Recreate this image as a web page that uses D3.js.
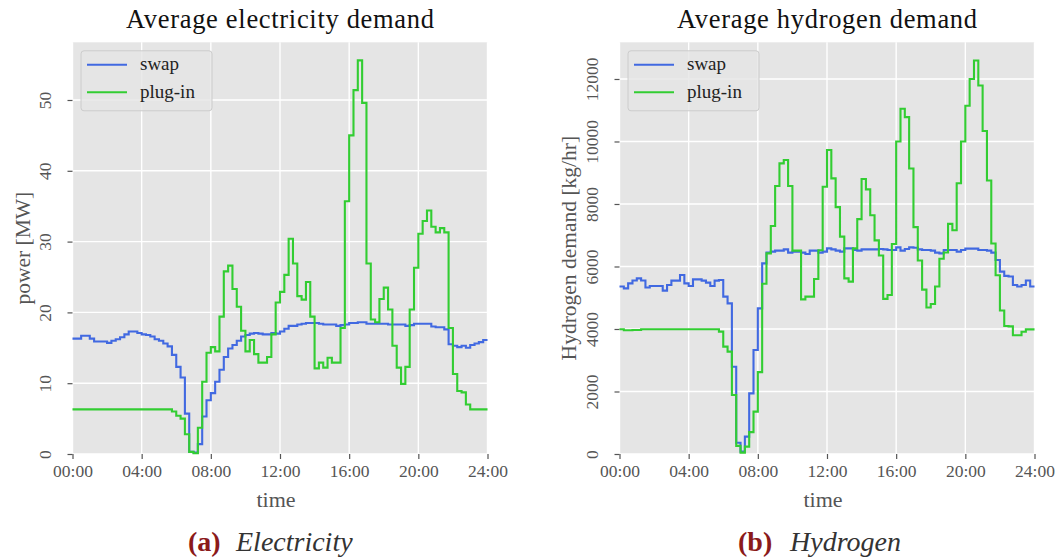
<!DOCTYPE html>
<html>
<head>
<meta charset="utf-8">
<script src="https://cdn.jsdelivr.net/npm/d3@7"></script>
<style>
  html, body { margin: 0; padding: 0; background: #ffffff; }
  svg { display: block; }
  text { font-family: "Liberation Serif", "DejaVu Serif", serif; }
</style>
</head>
<body>
<svg id="fig" width="1062" height="559"></svg>
<script>
// Quarter-hour averages over one day (96 slots, slot i starts at i/4 h)
const timeTicks = [0, 4, 8, 12, 16, 20, 24];
const timeTickLabels = ["00:00", "04:00", "08:00", "12:00", "16:00", "20:00", "24:00"];
const seriesNames = ["swap", "plug-in"];
const seriesColors = ["#4169e1", "#32cd32"];

// Electricity demand [MW]
const elecTicks = [0, 10, 20, 30, 40, 50];
const elecSwap = [
  16.3, 16.3, 16.7, 16.7, 16.3, 15.9, 15.9, 15.9, 15.7, 16.0, 16.2, 16.5,
  16.9, 17.3, 17.3, 17.1, 16.9, 16.8, 16.6, 16.2, 16.0, 15.6, 15.2, 14.0,
  12.3, 10.8, 5.7, 0.3, 0.2, 1.4, 5.3, 7.6, 8.6, 10.2, 11.9, 13.7,
  14.9, 15.4, 16.0, 16.6, 16.8, 17.0, 17.1, 17.0, 16.9, 16.9, 17.1, 17.0,
  17.3, 17.7, 18.1, 18.1, 18.3, 18.4, 18.5, 18.5, 18.5, 18.4, 18.3, 18.3,
  18.3, 18.1, 18.2, 18.3, 18.5, 18.5, 18.6, 18.6, 18.4, 18.4, 18.4, 18.4,
  18.4, 18.3, 18.3, 18.3, 18.3, 18.1, 18.2, 18.4, 18.4, 18.4, 18.4, 18.0,
  17.9, 17.9, 17.6, 15.5, 15.3, 15.1, 15.3, 15.0, 15.4, 15.6, 15.8, 16.1
];
const elecPlug = [
  6.3, 6.3, 6.3, 6.3, 6.3, 6.3, 6.3, 6.3, 6.3, 6.3, 6.3, 6.3,
  6.3, 6.3, 6.3, 6.3, 6.3, 6.3, 6.3, 6.3, 6.3, 6.3, 6.3, 6.0,
  5.4, 5.0, 2.8, 0.3, 0.1, 3.7, 10.2, 14.3, 15.1, 14.5, 19.4, 25.8,
  26.6, 23.3, 20.8, 17.4, 14.5, 16.1, 14.1, 12.9, 12.9, 13.7, 16.9, 21.4,
  22.9, 25.3, 30.4, 26.9, 22.3, 21.8, 24.3, 19.4, 12.1, 12.9, 12.2, 13.6,
  12.9, 12.9, 17.8, 35.7, 45.0, 51.4, 55.6, 49.6, 26.9, 19.0, 18.6, 21.9,
  23.5, 20.4, 15.3, 12.2, 9.9, 12.3, 20.4, 26.3, 31.1, 32.9, 34.4, 32.1,
  31.3, 31.9, 31.3, 17.8, 11.3, 8.9, 8.7, 7.0, 6.3, 6.3, 6.3, 6.3
];

// Hydrogen demand [kg/hr]
const h2Ticks = [0, 2000, 4000, 6000, 8000, 10000, 12000];
const h2Swap = [
  5360, 5300, 5460, 5550, 5620, 5550, 5330, 5376, 5376, 5376, 5227, 5408,
  5547, 5547, 5728, 5461, 5376, 5589, 5589, 5547, 5483, 5376, 5547, 5568,
  5035, 4820, 2790, 360, 75, 555, 1941, 3328, 4661, 6101, 6443, 6475,
  6507, 6507, 6549, 6443, 6475, 6475, 6443, 6400, 6507, 6507, 6443, 6475,
  6581, 6549, 6507, 6475, 6581, 6581, 6528, 6507, 6549, 6549, 6549, 6549,
  6560, 6549, 6528, 6528, 6613, 6507, 6560, 6613, 6600, 6549, 6528, 6528,
  6507, 6443, 6421, 6528, 6528, 6528, 6475, 6528, 6571, 6571, 6571, 6528,
  6528, 6507, 6443, 6208, 5835, 5700, 5680, 5410, 5360, 5410, 5550, 5360
];
const h2Plug = [
  3990, 3960, 3960, 3970, 3970, 3990, 3990, 3990, 3990, 3990, 3990, 3990,
  3990, 3990, 3990, 3990, 3990, 3990, 3990, 3990, 3990, 3990, 3990, 3915,
  3435, 3275, 1888, 260, 43, 235, 700, 1355, 2620, 5450, 6421, 7296,
  8576, 9301, 9408, 8576, 6507, 6507, 4949, 5035, 5035, 5600, 6520, 8550,
  9728, 8821, 7900, 6955, 5621, 5515, 6581, 7515, 8800, 8469, 7640, 6835,
  6350, 4965, 5088, 6720, 10000, 11050, 10780, 9135, 7260, 6190, 5260, 4690,
  4800, 5360, 6250, 6450, 7365, 7160, 8665, 10000, 11145, 12000, 12590, 11790,
  10335, 8750, 6735, 5720, 4590, 4096, 4085, 3800, 3800, 3910, 3989, 3989
];

const svg = d3.select("#fig");
const TICK_GRAY = "#555555";

function toPoints(values) {
  const pts = values.map((v, i) => ({ t: i / 4, v }));
  pts.push({ t: 24, v: values[values.length - 1] });
  return pts;
}

function drawPanel(cfg) {
  const x = d3.scaleLinear().domain([0, 24]).range([cfg.left, cfg.right]);
  const y = d3.scaleLinear().domain([0, cfg.yMax]).range([cfg.bottom, cfg.top]);
  const g = svg.append("g");

  // plot background
  g.append("rect")
    .attr("x", cfg.left).attr("y", cfg.top)
    .attr("width", cfg.right - cfg.left).attr("height", cfg.bottom - cfg.top)
    .attr("fill", "#e5e5e5");

  // grid
  g.append("g").selectAll("line").data(timeTicks).join("line")
    .attr("x1", d => x(d)).attr("x2", d => x(d))
    .attr("y1", cfg.top).attr("y2", cfg.bottom)
    .attr("stroke", "#ffffff").attr("stroke-width", 1.4);
  g.append("g").selectAll("line").data(cfg.yTicks).join("line")
    .attr("x1", cfg.left).attr("x2", cfg.right)
    .attr("y1", d => y(d)).attr("y2", d => y(d))
    .attr("stroke", "#ffffff").attr("stroke-width", 1.4);

  // x axis
  const xAxis = d3.axisBottom(x).tickValues(timeTicks)
    .tickFormat((d, i) => timeTickLabels[i]).tickSize(5).tickPadding(6);
  const gx = g.append("g").attr("transform", `translate(0,${cfg.bottom})`).call(xAxis);
  gx.select(".domain").remove();
  gx.selectAll(".tick line").attr("stroke", TICK_GRAY).attr("stroke-width", 1.2);
  gx.selectAll(".tick text")
    .attr("fill", TICK_GRAY).attr("font-size", 17.5)
    .attr("font-family", "Liberation Serif").attr("dy", "0.71em");

  // y axis with rotated labels
  const yAxis = d3.axisLeft(y).tickValues(cfg.yTicks)
    .tickFormat(d3.format("d")).tickSize(5).tickPadding(0);
  const gy = g.append("g").attr("transform", `translate(${cfg.left},0)`).call(yAxis);
  gy.select(".domain").remove();
  gy.selectAll(".tick line").attr("stroke", TICK_GRAY).attr("stroke-width", 1.2);
  gy.selectAll(".tick text")
    .attr("fill", TICK_GRAY).attr("font-size", 17.5)
    .attr("font-family", "Liberation Serif")
    .attr("x", null).attr("dy", null)
    .attr("text-anchor", "middle")
    .attr("transform", `translate(${-cfg.yTickOffset},0) rotate(-90)`);

  // series
  const line = d3.line().x(d => x(d.t)).y(d => y(d.v)).curve(d3.curveStepAfter);
  cfg.series.forEach((vals, i) => {
    g.append("path").datum(toPoints(vals))
      .attr("fill", "none").attr("stroke", seriesColors[i])
      .attr("stroke-width", 2.1).attr("stroke-linejoin", "miter")
      .attr("d", line);
  });

  // legend
  const lg = g.append("g").attr("transform", `translate(${cfg.left + 8.5},${cfg.top + 8.5})`);
  lg.append("rect").attr("width", 131).attr("height", 60).attr("rx", 3)
    .attr("fill", "#e5e5e5").attr("fill-opacity", 0.8)
    .attr("stroke", "#cccccc").attr("stroke-width", 1);
  seriesNames.forEach((name, i) => {
    const yy = 14 + i * 27.5;
    lg.append("line").attr("x1", 6).attr("x2", 46).attr("y1", yy).attr("y2", yy)
      .attr("stroke", seriesColors[i]).attr("stroke-width", 2.1);
    lg.append("text").attr("x", 59).attr("y", yy + 5.5)
      .attr("font-size", 19).attr("fill", "#222").text(name);
  });

  // title, axis labels
  const cx = (cfg.left + cfg.right) / 2;
  g.append("text").attr("x", cx).attr("y", 28).attr("text-anchor", "middle")
    .attr("font-size", 26.5).attr("fill", "#111")
    .attr("textLength", cfg.titleWidth).attr("lengthAdjust", "spacing")
    .text(cfg.title);
  g.append("text").attr("x", cx - 4).attr("y", 507).attr("text-anchor", "middle")
    .attr("font-size", 22).attr("fill", TICK_GRAY).text("time");
  g.append("text").attr("text-anchor", "middle")
    .attr("transform", `translate(${cfg.yLabelX},${(cfg.top + cfg.bottom) / 2}) rotate(-90)`)
    .attr("font-size", 21.5).attr("fill", TICK_GRAY).text(cfg.yLabel);

  // caption
  g.append("text").attr("x", cfg.capX).attr("y", 551).attr("font-size", 28)
    .attr("font-weight", "bold").attr("fill", "#8b1a1a")
    .text(cfg.capTag);
  g.append("text").attr("x", cfg.capTextX).attr("y", 551).attr("font-size", 28)
    .attr("font-style", "italic").attr("fill", "#333")
    .text(cfg.capText);
}

drawPanel({
  left: 72.5, right: 487.5, top: 42.3, bottom: 454,
  yMax: 58.15, yTicks: elecTicks, yTickOffset: 22,
  series: [elecSwap, elecPlug],
  title: "Average electricity demand", titleWidth: 308,
  yLabel: "power [MW]", yLabelX: 30,
  capX: 188, capTag: "(a)", capTextX: 236, capText: "Electricity"
});

drawPanel({
  left: 619.5, right: 1034.5, top: 42.3, bottom: 454,
  yMax: 13174, yTicks: h2Ticks, yTickOffset: 22,
  series: [h2Swap, h2Plug],
  title: "Average hydrogen demand", titleWidth: 300,
  yLabel: "Hydrogen demand [kg/hr]", yLabelX: 576,
  capX: 738, capTag: "(b)", capTextX: 790, capText: "Hydrogen"
});
</script>
</body>
</html>
